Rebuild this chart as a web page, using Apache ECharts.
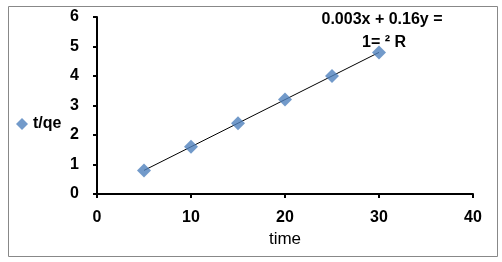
<!DOCTYPE html>
<html>
<head>
<meta charset="utf-8">
<script src="https://cdn.jsdelivr.net/npm/echarts@6/dist/echarts.min.js"></script>
<style>
html,body{margin:0;padding:0;background:#fff;}
#c{width:502px;height:262px;}
</style>
</head>
<body>
<div id="c"></div>
<script>
const timeValues = [5, 10, 15, 20, 25, 30];
const tqeValues = [0.8, 1.6, 2.4, 3.2, 4.0, 4.8];
const seriesName = 't/qe';
const xAxisName = 'time';
const equationLines = ['0.003x + 0.16y =', '1= \u00b2 R'];

// least-squares trendline from the data
const n = timeValues.length;
const mx = timeValues.reduce((a, b) => a + b, 0) / n;
const my = tqeValues.reduce((a, b) => a + b, 0) / n;
let sxy = 0, sxx = 0;
for (let i = 0; i < n; i++) { sxy += (timeValues[i] - mx) * (tqeValues[i] - my); sxx += (timeValues[i] - mx) ** 2; }
const slope = sxy / sxx, icpt = my - slope * mx;
const xMin = Math.min(...timeValues), xMax = Math.max(...timeValues);
const trend = [[xMin, icpt + slope * xMin], [xMax, icpt + slope * xMax]];

const chart = echarts.init(document.getElementById('c'), null, {renderer: 'canvas'});
const font = 'Liberation Sans, Arial, sans-serif';
chart.setOption({
  animation: false,
  backgroundColor: '#fff',
  grid: {left: 97, right: 29, top: 17, bottom: 68},
  xAxis: {
    type: 'value', min: 0, max: 40, interval: 10,
    name: xAxisName, nameLocation: 'middle', nameGap: 37,
    nameTextStyle: {color: '#000', fontSize: 17, fontFamily: font},
    axisLine: {show: true, onZero: false, lineStyle: {color: '#000', width: 2}},
    axisTick: {show: true, length: 4, lineStyle: {color: '#000', width: 2}},
    axisLabel: {color: '#000', fontSize: 16, fontWeight: 'bold', fontFamily: font, margin: 16},
    splitLine: {show: false}
  },
  yAxis: {
    type: 'value', min: 0, max: 6, interval: 1,
    axisLine: {show: true, lineStyle: {color: '#000', width: 2}},
    axisTick: {show: true, length: 4, lineStyle: {color: '#000', width: 2}},
    axisLabel: {color: '#000', fontSize: 16, fontWeight: 'bold', fontFamily: font, margin: 18},
    splitLine: {show: false}
  },
  legend: {
    left: 11, top: 111, orient: 'vertical',
    data: [{name: seriesName, icon: 'diamond'}],
    itemWidth: 12, itemHeight: 12, itemGap: 4,
    textStyle: {color: '#000', fontSize: 16, fontWeight: 'bold', fontFamily: font}
  },
  graphic: [
    {type: 'rect', left: 6, top: 4, shape: {width: 489, height: 250}, style: {fill: 'none', stroke: '#888', lineWidth: 1}, silent: true, z: -1},
    {type: 'text', x: 382, y: 12, style: {text: equationLines[0], fill: '#000', font: 'bold 16px ' + font, textAlign: 'center'}},
    {type: 'text', x: 384, y: 35, style: {text: equationLines[1], fill: '#000', font: 'bold 16px ' + font, textAlign: 'center'}}
  ],
  series: [
    {
      name: 'trend', type: 'line', data: trend, symbol: 'none',
      lineStyle: {color: '#000', width: 1}, z: 1, silent: true
    },
    {
      name: seriesName, type: 'scatter',
      data: timeValues.map((t, i) => [t, tqeValues[i]]),
      symbol: 'diamond', symbolSize: 14,
      itemStyle: {color: '#4F81BD'}, z: 2
    }
  ]
});
</script>
</body>
</html>
